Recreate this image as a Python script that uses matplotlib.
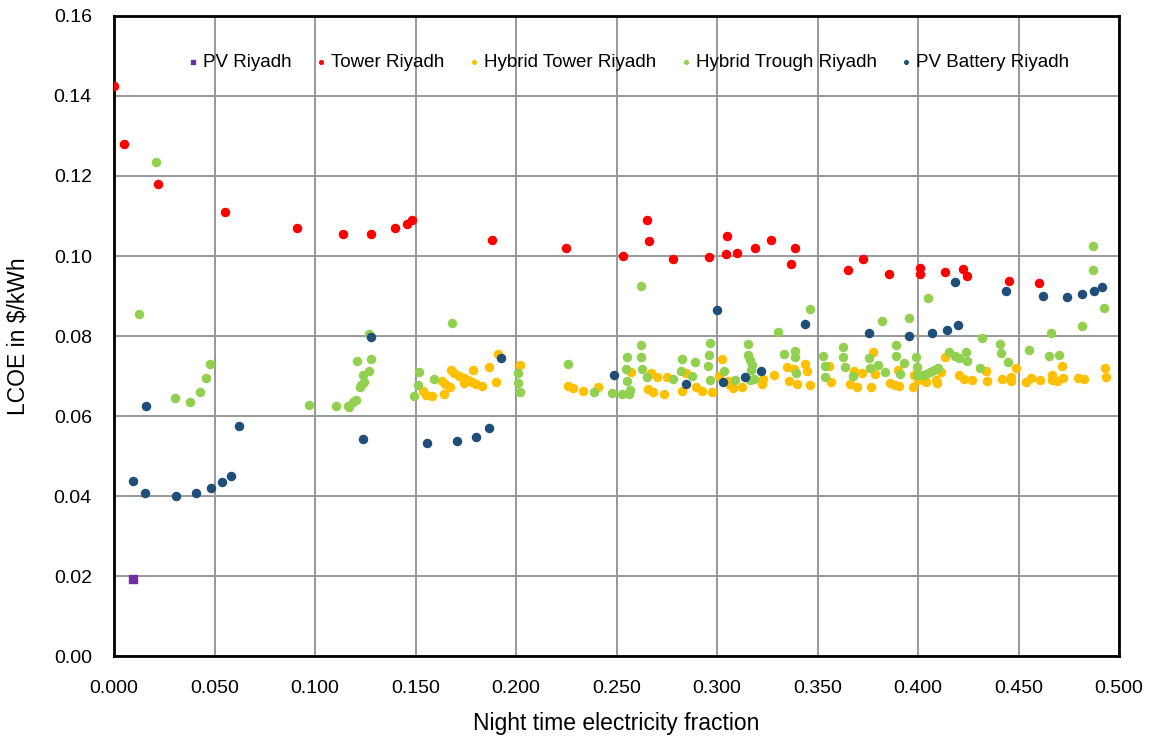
import matplotlib
matplotlib.use("Agg")
import matplotlib.pyplot as plt
from matplotlib.ticker import MultipleLocator, FormatStrFormatter

plt.rcParams['font.family'] = ['Liberation Sans', 'DejaVu Sans']

# PV Riyadh
pv_x = [0.0095]
pv_y = [0.0193]

# Tower Riyadh
tower_x = [0.000, 0.005, 0.022, 0.055, 0.091, 0.114, 0.128, 0.140, 0.146, 0.148,
           0.188, 0.225, 0.253, 0.265, 0.266, 0.278, 0.296, 0.3045, 0.305, 0.310,
           0.319, 0.327, 0.337, 0.339, 0.365, 0.3727, 0.3856, 0.401, 0.401, 0.4134,
           0.4224, 0.4244, 0.4453, 0.4602]
tower_y = [0.1425, 0.128, 0.118, 0.111, 0.107, 0.1055, 0.1055, 0.107, 0.108, 0.109,
           0.104, 0.102, 0.100, 0.109, 0.1038, 0.0993, 0.0998, 0.1005, 0.105, 0.1008,
           0.102, 0.104, 0.098, 0.102, 0.0965, 0.0993, 0.0955, 0.097, 0.0955, 0.096,
           0.0968, 0.095, 0.0938, 0.0932]

# Hybrid Tower Riyadh
htower_x = [0.1537, 0.1552, 0.1582, 0.1632, 0.1642, 0.1647, 0.1672, 0.1677, 0.1692, 0.1716,
            0.1741, 0.1741, 0.1761, 0.1781, 0.1786, 0.180, 0.183, 0.1866, 0.190, 0.191,
            0.202, 0.2259, 0.2284, 0.2333, 0.2408, 0.2572, 0.2657, 0.2672, 0.2682, 0.2701,
            0.2736, 0.2751, 0.2826, 0.2846, 0.2896, 0.2925, 0.2975, 0.301, 0.3025, 0.3055,
            0.3065, 0.308, 0.3124, 0.3224, 0.3229, 0.3284, 0.3348, 0.3358, 0.3383, 0.3398,
            0.3438, 0.3448, 0.3463, 0.3557, 0.3567, 0.3662, 0.3682, 0.3697, 0.3721, 0.3766,
            0.3776, 0.3786, 0.386, 0.3886, 0.390, 0.3905, 0.3975, 0.398, 0.400, 0.404,
            0.409, 0.4095, 0.4114, 0.4134, 0.4204, 0.4229, 0.4269, 0.4338, 0.4343, 0.4418,
            0.4463, 0.4463, 0.4488, 0.4537, 0.4562, 0.4607, 0.4667, 0.4667, 0.4692, 0.4716,
            0.4721, 0.4796, 0.4826, 0.493, 0.4935]
htower_y = [0.0663, 0.0653, 0.065, 0.0688, 0.0655, 0.068, 0.0673, 0.0715, 0.0708, 0.070,
            0.0695, 0.0683, 0.069, 0.0685, 0.0715, 0.068, 0.0675, 0.0723, 0.0685, 0.0755,
            0.0728, 0.0675, 0.067, 0.0663, 0.0673, 0.071, 0.0668, 0.0708, 0.066, 0.0698,
            0.0655, 0.0698, 0.0663, 0.0708, 0.0673, 0.0663, 0.066, 0.070, 0.0743, 0.0688,
            0.0678, 0.067, 0.0673, 0.068, 0.0693, 0.0703, 0.0723, 0.0688, 0.0718, 0.068,
            0.073, 0.0713, 0.0678, 0.0725, 0.0685, 0.068, 0.0713, 0.0673, 0.0708, 0.0673,
            0.076, 0.0705, 0.0683, 0.0678, 0.0715, 0.0675, 0.0673, 0.0703, 0.069, 0.0685,
            0.069, 0.0683, 0.071, 0.0748, 0.0703, 0.0693, 0.069, 0.0713, 0.0688, 0.0693,
            0.0698, 0.0688, 0.072, 0.0685, 0.0695, 0.069, 0.0703, 0.069, 0.0688, 0.0725,
            0.0695, 0.0695, 0.0693, 0.072, 0.0698]

# Hybrid Trough Riyadh
htrough_x = [0.0124, 0.0209, 0.0303, 0.0378, 0.0428, 0.0458, 0.0478, 0.097, 0.1104, 0.1164,
             0.117, 0.119, 0.1204, 0.1209, 0.1224, 0.123, 0.1239, 0.1244, 0.1269, 0.1269,
             0.1279, 0.1493, 0.1512, 0.1517, 0.1592, 0.1682, 0.201, 0.201, 0.202, 0.2259,
             0.2388, 0.2478, 0.2527, 0.2547, 0.2552, 0.2552, 0.2562, 0.2567, 0.2622, 0.2622,
             0.2622, 0.2627, 0.2652, 0.2781, 0.2821, 0.2826, 0.2876, 0.289, 0.2955, 0.296,
             0.2965, 0.2965, 0.3035, 0.309, 0.3154, 0.3154, 0.3164, 0.3164, 0.3169, 0.3174,
             0.3184, 0.3303, 0.3333, 0.3388, 0.3388, 0.3393, 0.3463, 0.3527, 0.3537, 0.3537,
             0.3627, 0.3627, 0.3637, 0.3677, 0.3756, 0.3761, 0.3801, 0.3821, 0.3836, 0.389,
             0.389, 0.391, 0.393, 0.3955, 0.399, 0.3995, 0.3995, 0.402, 0.404, 0.405,
             0.406, 0.408, 0.410, 0.4154, 0.4184, 0.4204, 0.4239, 0.4244, 0.4308, 0.4318,
             0.4408, 0.4413, 0.4448, 0.4552, 0.4652, 0.4662, 0.4701, 0.4816, 0.4871, 0.4871,
             0.4925]
htrough_y = [0.0855, 0.1235, 0.0645, 0.0635, 0.066, 0.0695, 0.073, 0.0628, 0.0625, 0.0625,
             0.0623, 0.0635, 0.064, 0.0738, 0.0673, 0.0678, 0.0703, 0.0685, 0.0713, 0.0805,
             0.0743, 0.065, 0.0678, 0.071, 0.0693, 0.0833, 0.0708, 0.0683, 0.066, 0.073,
             0.066, 0.0658, 0.0655, 0.0718, 0.0688, 0.0748, 0.0655, 0.0665, 0.0925, 0.0778,
             0.0748, 0.0718, 0.0698, 0.0693, 0.0713, 0.0743, 0.070, 0.0735, 0.0725, 0.0753,
             0.0783, 0.069, 0.0713, 0.069, 0.078, 0.0753, 0.074, 0.069, 0.0715, 0.0728,
             0.0693, 0.081, 0.0755, 0.0763, 0.0748, 0.0708, 0.0868, 0.075, 0.0725, 0.0698,
             0.0773, 0.0748, 0.0723, 0.070, 0.0745, 0.072, 0.0728, 0.0838, 0.071, 0.0778,
             0.075, 0.0705, 0.0733, 0.0845, 0.0748, 0.0723, 0.0703, 0.0703, 0.0705, 0.0895,
             0.071, 0.0715, 0.072, 0.076, 0.075, 0.0745, 0.076, 0.0738, 0.072, 0.0795,
             0.078, 0.0758, 0.0735, 0.0765, 0.075, 0.0808, 0.0753, 0.0825, 0.1025, 0.0965,
             0.087]

# PV Battery Riyadh
pvbat_x = [0.0095, 0.0154, 0.016, 0.031, 0.041, 0.0483, 0.0537, 0.058, 0.0622, 0.124,
           0.128, 0.1557, 0.1706, 0.180, 0.1866, 0.1925, 0.2488, 0.2846, 0.300, 0.303,
           0.314, 0.322, 0.3438, 0.3756, 0.3955, 0.407, 0.4144, 0.4184, 0.420, 0.4438,
           0.4622, 0.474, 0.4816, 0.4875, 0.4915]
pvbat_y = [0.0438, 0.0408, 0.0625, 0.040, 0.0408, 0.042, 0.0435, 0.045, 0.0575, 0.0543,
           0.0798, 0.0533, 0.0538, 0.0548, 0.057, 0.0745, 0.0703, 0.068, 0.0865, 0.0685,
           0.0698, 0.0713, 0.083, 0.0808, 0.080, 0.0808, 0.0815, 0.0935, 0.0828, 0.0913,
           0.090, 0.0898, 0.0905, 0.0913, 0.0922]

fig = plt.figure(figsize=(11.54, 7.43), dpi=100)
ax = fig.add_axes([0.0988, 0.117, 0.8709, 0.8615])

s = 34
ax.scatter(pv_x, pv_y, s=26, marker='s', color='#7030A0', label='PV Riyadh', zorder=3)
ax.scatter(tower_x, tower_y, s=s, color='#FF0000', label='Tower Riyadh', zorder=3)
ax.scatter(htower_x, htower_y, s=s, color='#FFC000', label='Hybrid Tower Riyadh', zorder=3)
ax.scatter(htrough_x, htrough_y, s=s, color='#92D050', label='Hybrid Trough Riyadh', zorder=3)
ax.scatter(pvbat_x, pvbat_y, s=s, color='#1F4E79', label='PV Battery Riyadh', zorder=3)

ax.set_xlim(0, 0.5)
ax.set_ylim(0, 0.16)
ax.xaxis.set_major_locator(MultipleLocator(0.05))
ax.yaxis.set_major_locator(MultipleLocator(0.02))
ax.xaxis.set_major_formatter(FormatStrFormatter('%.3f'))
ax.yaxis.set_major_formatter(FormatStrFormatter('%.2f'))
ax.grid(True, color='#999999', linewidth=1.4, zorder=0)
ax.set_axisbelow(True)
for sp in ax.spines.values():
    sp.set_linewidth(2)
    sp.set_color('black')
ax.tick_params(length=0, labelsize=14)
ax.tick_params(axis='x', pad=17)
ax.tick_params(axis='y', pad=16)

ax.set_xlabel('Night time electricity fraction', fontsize=16.5)
ax.set_ylabel('LCOE in \\$/kWh', fontsize=16.5)
ax.xaxis.set_label_coords(0.5, -0.087)
ax.yaxis.set_label_coords(-0.084, 0.5)

ax.legend(loc='center', bbox_to_anchor=(0.51, 0.928), ncol=5, frameon=False,
          fontsize=13.5, markerscale=0.45, handletextpad=0.05, columnspacing=1.05,
          handlelength=1.0)

plt.savefig("out.png", dpi=100)
